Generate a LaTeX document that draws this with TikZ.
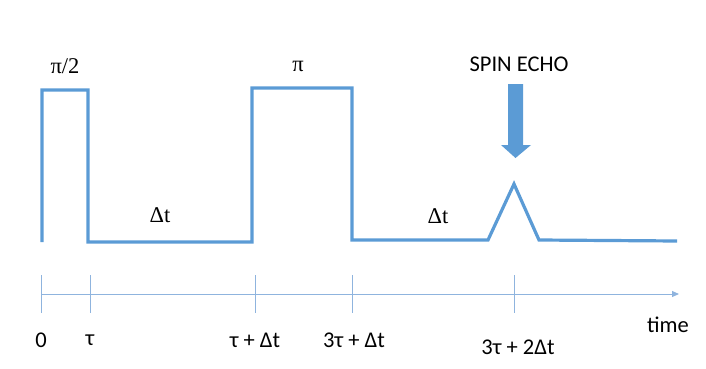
\documentclass[tikz,border=0pt]{standalone}
\usepackage{fontspec}
\setmainfont{Liberation Serif}
\newfontfamily\carlitofont{Carlito}
\usetikzlibrary{arrows.meta}
\definecolor{pulse}{HTML}{5B9BD5}
\definecolor{axisc}{HTML}{8FB4DE}
\begin{document}
\begin{tikzpicture}[x=1pt,y=-1pt,
  trace/.style={draw=pulse,line width=3.2pt,line join=miter},
  axisline/.style={draw=axisc,line width=1pt},
  serif/.style={font=\fontsize{22.5}{24}\selectfont,inner sep=0pt},
  sans/.style={font=\carlitofont\fontsize{22.5}{24}\selectfont,inner sep=0pt},
]
\useasboundingbox (0,0) rectangle (706,369);
% pulse trace
\coordinate (p0) at (42,242);
\coordinate (p1) at (42,90);
\coordinate (p2) at (88,90);
\coordinate (p3) at (88,242);
\coordinate (p4) at (252,242);
\coordinate (p5) at (252,88);
\coordinate (p6) at (352,88);
\coordinate (p7) at (352,240);
\coordinate (p8) at (488,240);
\coordinate (p9) at (514,184);
\coordinate (p10) at (539,240);
\coordinate (p11) at (677,241);
\draw[trace] (p0) -- (p1) -- (p2) -- (p3) -- (p4) -- (p5) -- (p6) -- (p7) -- (p8) -- (p9) -- (p10) -- (p11);
% spin echo arrow
\fill[pulse] (508,84) -- (523,84) -- (523,145) -- (531,145) -- (515.5,158) -- (501,145) -- (508,145) -- cycle;
% labels
\node[serif] (l1) at (65,66) {π/2};
\node[serif] (l2) at (298,66) {π};
\node[serif] (l3) at (160,215) {Δt};
\node[serif] (l4) at (438,216) {Δt};
\node[sans] (se) at (519,64) {SPIN ECHO};
% axis
\coordinate (a0) at (41,294);
\coordinate (a1) at (679,294);
\draw[axisline,-{Triangle[length=7pt,width=6pt]}] (a0) -- (a1);
\foreach \x in {41,90,255,352,514}{
  \draw[axisline] (\x,275) -- (\x,313);
}
\node[sans] (t0) at (41,340) {0};
\node[sans] (t1) at (90,340) {τ};
\node[sans] (t2) at (255,340) {τ + Δt};
\node[sans] (t3) at (354,340) {3τ + Δt};
\node[sans] (t4) at (518,347) {3τ + 2Δt};
\node[sans] (tm) at (668,325) {time};
\end{tikzpicture}
\end{document}
